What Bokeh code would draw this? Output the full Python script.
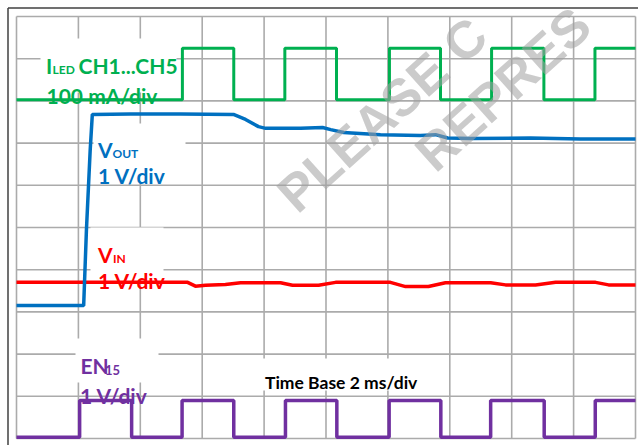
from bokeh.plotting import figure
from bokeh.models import Range1d
from bokeh.core.properties import value
from bokeh.embed import file_html
from bokeh.resources import INLINE

# ---------------- data (time in ms, level in scope divisions) ----------------
grid_time_ms = [0, 2, 4, 6, 8, 10, 12, 14, 16, 18, 20]      # 2 ms/div
grid_level_div = [0, 1, 2, 3, 4, 5, 6, 7, 8, 9, 10]

# I_LED CH1...CH5 (100 mA/div): edge times, starting low
iled_edges_ms = [5.36, 7.02, 8.67, 10.34, 12.05, 13.70, 15.35, 17.04, 18.69]
iled_low_div, iled_high_div = 8.03, 9.25

# EN15 (1 V/div): edge times, starting low
en_edges_ms = [2.04, 3.72, 5.35, 7.02, 8.69, 10.35, 12.04, 13.71, 15.32, 17.05, 18.70]
en_low_div, en_high_div = 0.03, 0.90

# VOUT (1 V/div)
vout_t_ms = [0.0, 2.17, 2.26, 2.38, 2.45, 3.68, 5.30, 7.01, 7.40, 7.82, 8.05, 9.18,
             9.89, 10.15, 10.57, 11.76, 13.05, 13.54, 13.93, 14.67, 16.61, 18.22, 20.0]
vout_div = [3.15, 3.15, 4.95, 6.82, 7.68, 7.69, 7.69, 7.68, 7.56, 7.39, 7.35, 7.35,
            7.37, 7.32, 7.25, 7.20, 7.18, 7.20, 7.12, 7.11, 7.12, 7.10, 7.10]

# VIN (1 V/div)
vin_t_ms = [0.0, 5.53, 5.78, 6.11, 6.75, 7.24, 8.53, 8.92, 9.76, 10.31, 12.08,
            12.57, 13.31, 13.86, 15.32, 15.80, 16.77, 17.42, 18.71, 19.13, 20.0]
vin_div = [3.70, 3.70, 3.61, 3.63, 3.65, 3.69, 3.69, 3.63, 3.63, 3.70, 3.70,
           3.60, 3.60, 3.69, 3.69, 3.64, 3.64, 3.70, 3.70, 3.64, 3.64]

GREEN, BLUE, RED, PURPLE = "#00B050", "#0070C0", "#FF0000", "#7030A0"


def step_wave(edges, lo, hi, t0=0.0, t1=20.0):
    xs, ys, level = [t0], [lo], lo
    for e in edges:
        nxt = hi if level == lo else lo
        xs += [e, e]
        ys += [level, nxt]
        level = nxt
    xs.append(t1)
    ys.append(level)
    return xs, ys


# ---------------- figure ----------------
W, H = 638, 445
PX_MS, PX_DIV = 619 / 20, 42.2
x0, x1 = -16 / PX_MS, 20 + 3 / PX_MS
y0, y1 = -7 / PX_DIV, 10 + 16 / PX_DIV

p = figure(width=W, height=H, output_backend="svg", toolbar_location=None,
           x_range=Range1d(x0, x1), y_range=Range1d(y0, y1),
           x_axis_type=None, y_axis_type=None, min_border=0,
           background_fill_color="white", border_fill_color="white")
p.min_border_left = p.min_border_right = p.min_border_top = p.min_border_bottom = 0
p.outline_line_color = None
p.xgrid.visible = False
p.ygrid.visible = False


# helpers for placing layout items at reference-pixel positions
def tx(px):
    return x0 + px / PX_MS


def ty(py):
    return y1 - py / PX_DIV


# grid
p.segment(x0=grid_time_ms, x1=grid_time_ms, y0=[0] * len(grid_time_ms), y1=[10] * len(grid_time_ms),
          line_color="#ababab", line_width=1.6)
p.segment(x0=[0] * len(grid_level_div), x1=[20] * len(grid_level_div), y0=grid_level_div, y1=grid_level_div,
          line_color="#ababab", line_width=1.6)

# outer border (left / top)
bx, by = tx(7.5), ty(7.5)
p.segment(x0=[bx, bx], x1=[bx, x1], y0=[y0, by], y1=[by, by], line_color="#404040", line_width=1.5)

# white label boxes
boxes = [(40, 176, 38, 92), (93, 185, 123, 182), (90, 163, 227, 281), (75, 158, 338, 382), (255, 440, 358, 390)]
p.quad(left=[tx(b[0]) for b in boxes], right=[tx(b[1]) for b in boxes],
       top=[ty(b[2]) for b in boxes], bottom=[ty(b[3]) for b in boxes],
       fill_color="white", line_color=None)

# traces
ix, iy = step_wave(iled_edges_ms, iled_low_div, iled_high_div)
p.line(ix, iy, line_color=GREEN, line_width=3)
ex, ey = step_wave(en_edges_ms, en_low_div, en_high_div)
p.line(ex, ey, line_color=PURPLE, line_width=3.5)
p.line(vin_t_ms, vin_div, line_color=RED, line_width=3.5)
p.line(vout_t_ms, vout_div, line_color=BLUE, line_width=3.5)

# labels: (text, ref x, ref baseline y, size, color)
labels = [
    ("I", 45.5, 65, "21px", GREEN), ("LED", 52, 69, "12px", GREEN), ("CH1...CH5", 78, 65, "21px", GREEN),
    ("100 mA/div", 46, 95, "21px", GREEN),
    ("V", 97.5, 148.5, "21px", BLUE), ("OUT", 112, 152.5, "12px", BLUE), ("1 V/div", 97.5, 175, "21px", BLUE),
    ("V", 97.5, 253.5, "21px", RED), ("IN", 112.5, 257.5, "12px", RED), ("1 V/div", 97.5, 279.5, "21px", RED),
    ("EN", 80, 365, "21px", PURPLE), ("15", 104.5, 369.5, "13px", PURPLE), ("1 V/div", 79.5, 395, "21px", PURPLE),
    ("Time Base 2 ms/div", 264.5, 382, "17.5px", "black"),
]
for t, lx, ly, sz, col in labels:
    p.text(x=[tx(lx)], y=[ty(ly)], text=[t], text_font=value("Lato"), text_font_style="bold",
           text_font_size=value(sz), text_color=col, text_align="left", text_baseline="alphabetic")

# watermark (only the part that lies on the page)
for t, wx, wy in [("PLEASE C", 285, 201), ("REPRES", 423, 160)]:
    p.text(x=[tx(wx)], y=[ty(wy)], text=[t], angle=0.733, text_font=value("Liberation Sans"),
           text_font_style="bold", text_font_size=value("52px"), text_color="#a0a0a0",
           text_alpha=0.55, text_align="left", text_baseline="middle")

open("out.html", "w").write(file_html(p, INLINE))
